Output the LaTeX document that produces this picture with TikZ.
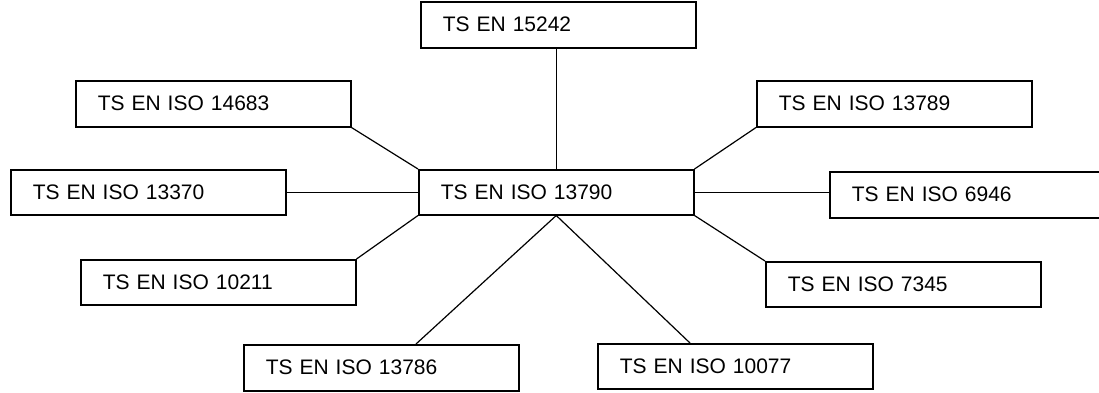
\documentclass[tikz,border=0pt]{standalone}
\usepackage{fontspec}
\setmainfont{Liberation Sans}
\usetikzlibrary{calc}
\begin{document}
\begin{tikzpicture}[x=1pt,y=-1pt,
  stdbox/.style={draw=black, line width=1.5pt, rectangle, anchor=north west,
    minimum height=46pt, inner xsep=22pt, inner ysep=0pt, text width=231pt, align=left,
    font=\fontsize{21}{25}\selectfont},
  link/.style={draw=black, line width=1.2pt}]
\useasboundingbox (0,0) rectangle (1099,392);
\node[stdbox, minimum height=45pt] (c) at (418,169) {TS EN ISO 13790};
\node[stdbox] (t) at (420,1) {TS EN 15242};
\node[stdbox] (a) at (75,80) {TS EN ISO 14683};
\node[stdbox] (b) at (756,80) {TS EN ISO 13789};
\node[stdbox, minimum height=45pt] (d) at (10,169) {TS EN ISO 13370};
\node[stdbox] (e) at (829,171) {TS EN ISO 6946};
\node[stdbox, minimum height=45pt] (f) at (80,259) {TS EN ISO 10211};
\node[stdbox, minimum height=45pt] (g) at (765,261) {TS EN ISO 7345};
\node[stdbox] (h) at (243,344) {TS EN ISO 13786};
\node[stdbox, minimum height=45pt] (i) at (597,343) {TS EN ISO 10077};
\draw[link] (c.north) -- (c.north |- t.south);
\draw[link] (a.south east) -- (c.north west);
\draw[link] (b.south west) -- (c.north east);
\draw[link] (d.east) -- (c.west);
\draw[link] (c.east) -- (c.east -| e.west);
\draw[link] (c.south west) -- (f.north east);
\draw[link] (c.south east) -- (g.north west);
\draw[link] (c.south) -- ($(h.north west)+(173,0)$);
\draw[link] (c.south) -- ($(i.north west)+(93,0)$);
\end{tikzpicture}
\end{document}
